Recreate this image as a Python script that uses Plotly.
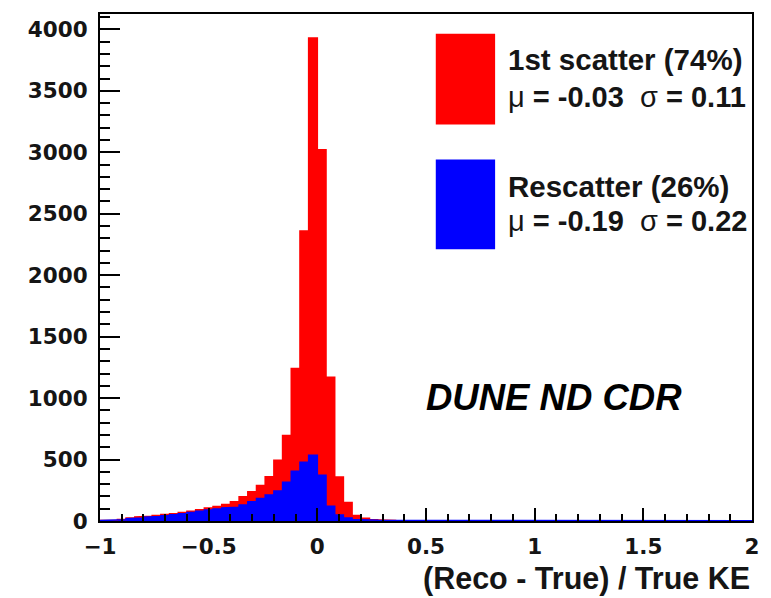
import numpy as np
import plotly.graph_objects as go

# Histogram binning (bin width 0.04 from -1 to 2)
bin_width = 0.04
bin_left_edges = [round(-1.0 + 0.04 * k, 2) for k in range(75)]

# Visible top of red histogram (1st scatter, stacked total)
red_counts = [4, 6, 12, 25, 33, 38, 45, 52, 60, 70,
              80, 92, 105, 118, 135, 157, 197, 238, 288, 360,
              494, 695, 1240, 2360, 3930, 3020, 1170, 359, 150, 45,
              22, 10, 6, 4, 3, 3, 3, 2, 2, 2,
              2, 2, 2, 2, 2, 2, 2, 2, 2, 2,
              2, 2, 2, 2, 2, 2, 2, 2, 2, 2,
              2, 2, 2, 2, 2, 2, 2, 2, 2, 2,
              2, 2, 2, 2, 2]

# Blue histogram (rescatter)
blue_counts = [4, 6, 10, 18, 24, 30, 36, 42, 50, 60,
               70, 80, 90, 98, 105, 111, 130, 157, 184, 211,
               245, 315, 405, 478, 535, 373, 120, 49, 24, 12,
               8, 6, 5, 4, 3, 3, 3, 2, 2, 2,
               2, 2, 2, 2, 2, 2, 2, 2, 2, 2,
               2, 2, 2, 2, 2, 2, 2, 2, 2, 2,
               2, 2, 2, 2, 2, 2, 2, 2, 2, 2,
               2, 2, 2, 2, 2]

x_ticks = [-1, -0.5, 0, 0.5, 1, 1.5, 2]
x_tick_labels = ["\u22121", "\u22120.5", "0", "0.5", "1", "1.5", "2"]
y_ticks = [0, 500, 1000, 1500, 2000, 2500, 3000, 3500, 4000]

legend_labels = ["1st scatter (74%)", "Rescatter (26%)"]
legend_stats = [("-0.03", "0.11"), ("-0.19", "0.22")]
series_colors = ["#ff0000", "#0000ff"]

centers = [e + bin_width / 2 for e in bin_left_edges]
edges_all = bin_left_edges + [round(bin_left_edges[-1] + bin_width, 2)]


def step_xy(counts):
    xs, ys = [], []
    for i, c in enumerate(counts):
        xs += [edges_all[i], edges_all[i + 1]]
        ys += [c, c]
    return xs, ys


fig = go.Figure()
for counts, col in zip([red_counts, blue_counts], series_colors):
    fig.add_trace(go.Bar(x=centers, y=counts, width=bin_width,
                         marker=dict(color=col, line=dict(width=0)),
                         showlegend=False, hoverinfo="skip"))
    sx, sy = step_xy(counts)
    fig.add_trace(go.Scatter(x=sx, y=sy, mode="lines",
                             line=dict(color=col, width=1.5),
                             showlegend=False, hoverinfo="skip"))

fig.update_layout(
    width=771, height=598,
    margin=dict(l=100, r=19, t=12, b=77),
    paper_bgcolor="white", plot_bgcolor="white",
    barmode="overlay", bargap=0,
    font=dict(family="DejaVu Sans", color="black"),
)

tick_font = dict(family="DejaVu Sans", size=21.5, color="#151515", weight="bold")

fig.update_xaxes(
    range=[-1, 2], tickvals=x_ticks, ticktext=x_tick_labels,
    ticks="inside", ticklen=13, tickwidth=2, tickcolor="black",
    minor=dict(dtick=0.1, ticks="inside", ticklen=7, tickwidth=2, tickcolor="black"),
    showline=True, linecolor="black", linewidth=2, mirror=True,
    showgrid=False, zeroline=False,
    tickfont=tick_font,
    ticklabelstandoff=5,
)
fig.update_yaxes(
    range=[0, 4125], tickvals=y_ticks,
    ticks="inside", ticklen=20, tickwidth=2, tickcolor="black",
    minor=dict(dtick=100, ticks="inside", ticklen=10, tickwidth=2, tickcolor="black"),
    showline=True, linecolor="black", linewidth=2, mirror=True,
    showgrid=False, zeroline=False,
    tickfont=tick_font,
    ticklabelstandoff=6,
)

# Custom legend (ROOT TLegend style, no border)
swatch_y = [(0.782, 0.961), (0.536, 0.713)]
label_y = [(0.910, 0.837), (0.660, 0.591)]
for i in range(2):
    y0, y1 = swatch_y[i]
    fig.add_shape(type="rect", xref="paper", yref="paper",
                  x0=0.515, x1=0.606, y0=y0, y1=y1,
                  fillcolor=series_colors[i], line=dict(width=0))
    fig.add_annotation(xref="paper", yref="paper", x=0.622, y=label_y[i][0],
                       xanchor="left", yanchor="middle", showarrow=False,
                       text=legend_labels[i],
                       font=dict(family="Liberation Sans", size=29.5, color="#151515", weight="bold"))
    mu, sig = legend_stats[i]
    fig.add_annotation(xref="paper", yref="paper", x=0.622, y=label_y[i][1],
                       xanchor="left", yanchor="middle", showarrow=False,
                       text=("<span style='font-weight:normal'>\u03bc</span> = " + mu +
                             "\u00a0\u00a0<span style='font-weight:normal'>\u03c3</span> = " + sig),
                       font=dict(family="Liberation Sans", size=29, color="#151515", weight="bold"))

fig.add_annotation(xref="paper", yref="paper", x=0.497, y=0.244,
                   xanchor="left", yanchor="middle", showarrow=False,
                   text="<b><i>DUNE ND CDR</i></b>",
                   font=dict(family="Liberation Sans", size=36.5, color="black"))

fig.add_annotation(xref="paper", yref="paper", x=1.0, y=-0.113,
                   xanchor="right", yanchor="middle", showarrow=False,
                   text="(Reco - True) / True KE",
                   font=dict(family="Liberation Sans", size=30.5, color="#151515", weight="bold"))

fig.write_html("out.html")
